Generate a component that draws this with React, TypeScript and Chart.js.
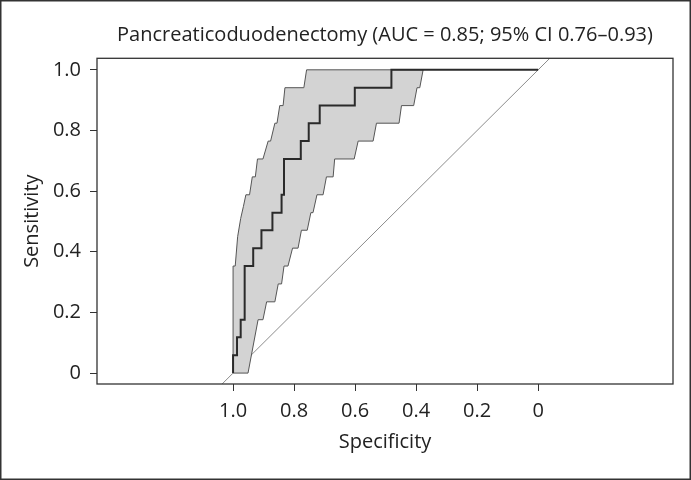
import React, { useEffect, useRef } from "react";
import { Chart, registerables } from "chart.js";

Chart.register(...registerables);

const titleText = "Pancreaticoduodenectomy (AUC = 0.85; 95% CI 0.76–0.93)";
const xAxisTitle = "Specificity";
const yAxisTitle = "Sensitivity";

const xTickValues = [1.0, 0.8, 0.6, 0.4, 0.2, 0];
const xTickLabels = ["1.0", "0.8", "0.6", "0.4", "0.2", "0"];
const yTickValues = [0, 0.2, 0.4, 0.6, 0.8, 1.0];
const yTickLabels = ["0", "0.2", "0.4", "0.6", "0.8", "1.0"];

// ROC curve (stepped: vertical first, then horizontal)
const rocSpecificity = [1.0, 0.987, 0.975, 0.962, 0.934, 0.907, 0.871, 0.841, 0.833, 0.778, 0.752, 0.716, 0.601, 0.481, 0];
const rocSensitivity = [0, 0.059, 0.118, 0.176, 0.353, 0.412, 0.471, 0.529, 0.588, 0.706, 0.765, 0.824, 0.882, 0.941, 1.0];

// 95% CI band: upper (left) boundary, bottom to top
const ciUpperSpecificity = [1.0, 1.0, 0.993, 0.985, 0.975, 0.966, 0.958, 0.946, 0.937, 0.927, 0.92, 0.902, 0.885, 0.877, 0.863, 0.856, 0.847, 0.836, 0.83, 0.768, 0.759];
const ciUpperSensitivity = [0, 0.353, 0.353, 0.45, 0.51, 0.55, 0.588, 0.588, 0.647, 0.647, 0.706, 0.706, 0.765, 0.765, 0.824, 0.824, 0.882, 0.882, 0.941, 0.941, 1.0];
// lower (right) boundary, top to bottom
const ciLowerSpecificity = [0.377, 0.388, 0.397, 0.408, 0.448, 0.456, 0.53, 0.541, 0.59, 0.603, 0.667, 0.672, 0.694, 0.705, 0.725, 0.738, 0.745, 0.757, 0.776, 0.787, 0.805, 0.82, 0.833, 0.841, 0.852, 0.863, 0.89, 0.902, 0.918, 0.951, 1.0];
const ciLowerSensitivity = [1.0, 0.941, 0.941, 0.882, 0.882, 0.824, 0.824, 0.765, 0.765, 0.706, 0.706, 0.647, 0.647, 0.588, 0.588, 0.529, 0.529, 0.471, 0.471, 0.412, 0.412, 0.353, 0.353, 0.294, 0.294, 0.235, 0.235, 0.176, 0.176, 0, 0];

// Chance diagonal (extends across the whole plot box)
const diagSpecificity = [1.5, -0.5];
const diagSensitivity = [-0.5, 1.5];

const FONT = "'Open Sans', 'Noto Sans', sans-serif";
const TEXT = "#222";

const boxPlugin = {
  id: "boxPlugin",
  afterDatasetsDraw(chart: any) {
    const { ctx, chartArea } = chart;
    ctx.save();
    ctx.strokeStyle = "#333";
    ctx.lineWidth = 1.3;
    ctx.strokeRect(chartArea.left, chartArea.top, chartArea.right - chartArea.left, chartArea.bottom - chartArea.top);
    ctx.restore();
  },
  afterDraw(chart: any) {
    const { ctx, width, height } = chart;
    ctx.save();
    ctx.strokeStyle = "#333";
    ctx.lineWidth = 1.5;
    ctx.strokeRect(0.75, 0.75, width - 1.5, height - 1.5);
    ctx.restore();
  },
};

export default function App() {
  const ref = useRef<HTMLCanvasElement>(null);
  useEffect(() => {
    document.body.style.margin = "0";
    const roc = rocSpecificity.map((x, i) => ({ x, y: rocSensitivity[i] }));
    const band = [
      ...ciUpperSpecificity.map((x, i) => ({ x, y: ciUpperSensitivity[i] })),
      ...ciLowerSpecificity.map((x, i) => ({ x, y: ciLowerSensitivity[i] })),
    ];
    const diag = diagSpecificity.map((x, i) => ({ x, y: diagSensitivity[i] }));
    const tickFont = { family: FONT, size: 20 };
    const chart = new Chart(ref.current as HTMLCanvasElement, {
      type: "scatter",
      data: {
        datasets: [
          { label: "ROC", data: roc, showLine: true, stepped: "after", borderColor: "#2a2a2a", borderWidth: 2, pointRadius: 0, fill: false } as any,
          { label: "CI", data: band, showLine: true, borderColor: "#555", borderWidth: 1, backgroundColor: "#d3d3d3", fill: "shape", pointRadius: 0 } as any,
          { label: "Diagonal", data: diag, showLine: true, borderColor: "#8c8c8c", borderWidth: 1, pointRadius: 0, fill: false } as any,
        ],
      },
      options: {
        responsive: false,
        animation: false,
        layout: { padding: { left: 0, right: 18, top: 0, bottom: 0 } },
        plugins: {
          legend: { display: false },
          tooltip: { enabled: false },
          title: {
            display: true,
            text: titleText,
            fullSize: false,
            color: TEXT,
            font: { family: FONT, size: 20, weight: "normal" },
            padding: { top: 23, bottom: 11.3 },
          },
        },
        scales: {
          x: {
            type: "linear",
            reverse: true,
            min: -0.442,
            max: 1.446,
            afterBuildTicks: (s: any) => {
              s.ticks = xTickValues.map((v) => ({ value: v }));
            },
            afterFit: (s: any) => {
              s.height = 96;
            },
            ticks: {
              callback: (v: any) => xTickLabels[xTickValues.indexOf(v)],
              font: tickFont,
              color: TEXT,
              padding: 8,
              maxRotation: 0,
              autoSkip: false,
            },
            grid: { drawOnChartArea: false, drawTicks: true, tickLength: 7, color: "#333" },
            border: { display: false },
            title: { display: true, text: xAxisTitle, color: TEXT, font: { family: FONT, size: 20 }, padding: { top: 0, bottom: 26 } },
          },
          y: {
            type: "linear",
            min: -0.036,
            max: 1.038,
            afterBuildTicks: (s: any) => {
              s.ticks = yTickValues.map((v) => ({ value: v }));
            },
            afterFit: (s: any) => {
              s.width = 97;
            },
            ticks: {
              callback: (v: any) => yTickLabels[yTickValues.indexOf(v)],
              font: tickFont,
              color: TEXT,
              padding: 9,
              autoSkip: false,
            },
            grid: { drawOnChartArea: false, drawTicks: true, tickLength: 7, color: "#333" },
            border: { display: false },
            title: { display: true, text: yAxisTitle, color: TEXT, font: { family: FONT, size: 20 }, padding: { top: 20, bottom: 0 } },
          },
        },
      } as any,
      plugins: [boxPlugin],
    });
    return () => chart.destroy();
  }, []);
  return <canvas ref={ref} width={691} height={480} style={{ display: "block" }} />;
}
